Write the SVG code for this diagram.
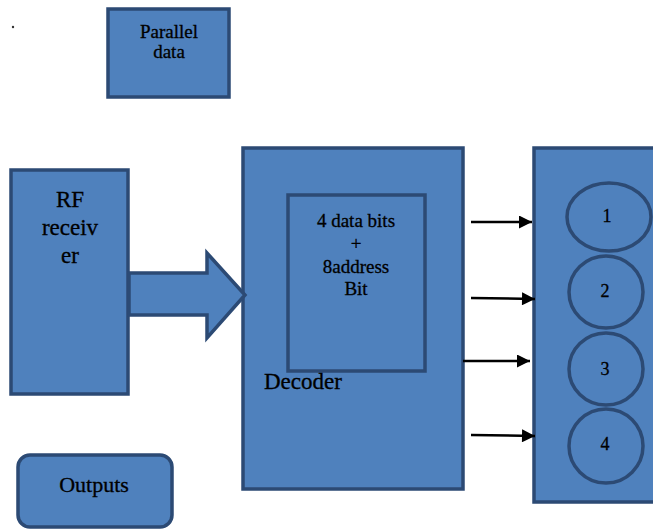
<svg xmlns="http://www.w3.org/2000/svg" width="653" height="530" viewBox="0 0 653 530">
  <defs>
    <style>
      .box { fill: #4f81bd; stroke: #2c4a74; stroke-width: 3.5; }
      .txt { font-family: "Liberation Serif", "Times New Roman", serif; fill: #000; stroke: #000; stroke-width: 0.3; text-anchor: middle; }
      .wire { stroke: #000; stroke-width: 2.5; fill: none; }
    </style>
    <marker id="head" viewBox="0 0 10 10" refX="10" refY="5" markerUnits="userSpaceOnUse" markerWidth="15" markerHeight="13" orient="auto">
      <path d="M0,0 L10,5 L0,10 Z" fill="#000"/>
    </marker>
  </defs>
  <rect width="653" height="530" fill="#fff"/>

  <circle cx="13" cy="27" r="1.2" fill="#333"/>

  <g id="parallel-data">
    <rect class="box" x="108" y="9" width="121" height="88"/>
    <text class="txt" x="169" y="38" font-size="19">Parallel</text>
    <text class="txt" x="169" y="58" font-size="19">data</text>
  </g>

  <g id="rf-receiver">
    <rect class="box" x="11" y="170" width="117" height="224"/>
    <text class="txt" x="70" y="207" font-size="23">RF</text>
    <text class="txt" x="70" y="235" font-size="23">receiv</text>
    <text class="txt" x="70" y="263" font-size="23">er</text>
  </g>

  <g id="decoder">
    <rect class="box" x="243" y="148" width="220" height="341"/>
    <rect class="box" x="288" y="195" width="137" height="176"/>
    <text class="txt" x="356" y="227" font-size="19">4 data bits</text>
    <text class="txt" x="356" y="250" font-size="19">+</text>
    <text class="txt" x="356" y="273" font-size="19">8address</text>
    <text class="txt" x="356" y="295" font-size="19">Bit</text>
    <text class="txt" x="264" y="389" font-size="23" style="text-anchor:start">Decoder</text>
  </g>

  <g id="output-bank">
    <rect class="box" x="534" y="148" width="125" height="354"/>
    <ellipse class="box" cx="609" cy="217" rx="42" ry="34"/>
    <ellipse class="box" cx="606" cy="292" rx="37" ry="36"/>
    <ellipse class="box" cx="606" cy="369" rx="37" ry="36"/>
    <ellipse class="box" cx="606" cy="446" rx="37" ry="37"/>
    <text class="txt" x="607" y="222" font-size="18">1</text>
    <text class="txt" x="605" y="297" font-size="18">2</text>
    <text class="txt" x="605" y="375" font-size="18">3</text>
    <text class="txt" x="605" y="450" font-size="18">4</text>
  </g>

  <g id="outputs">
    <rect class="box" x="18" y="455" width="154" height="72" rx="12" ry="12"/>
    <text class="txt" x="94" y="492" font-size="22">Outputs</text>
  </g>

  <g id="connectors">
    <path class="box" d="M129,273 L207,273 L207,253 L245,295 L207,338 L207,315 L129,315 Z"/>
    <line class="wire" x1="471" y1="222" x2="532" y2="222" marker-end="url(#head)"/>
    <line class="wire" x1="471" y1="298" x2="535" y2="299" marker-end="url(#head)"/>
    <line class="wire" x1="463" y1="361" x2="530" y2="361" marker-end="url(#head)"/>
    <line class="wire" x1="471" y1="435" x2="535" y2="436" marker-end="url(#head)"/>
  </g>
</svg>
